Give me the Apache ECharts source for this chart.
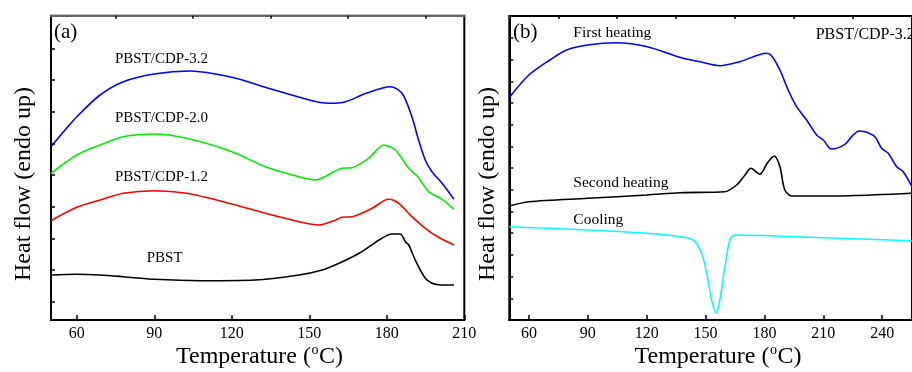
<!DOCTYPE html>
<html>
<head>
<meta charset="utf-8">
<script src="https://cdn.jsdelivr.net/npm/echarts@6/dist/echarts.min.js"></script>
<style>
  html, body { margin: 0; padding: 0; background: #fff; }
  #chart { width: 912px; height: 372px; }
</style>
</head>
<body>
<div id="chart"></div>
<script>
// x ticks (temperature, °C)
const tempTicksA = [60, 90, 120, 150, 180, 210];
const tempTicksB = [60, 90, 120, 150, 180, 210, 240];
const minorTicksA = [75, 105, 135, 165, 195];
const minorTicksB = [75, 105, 135, 165, 195, 225];
// y ticks (heat flow, arbitrary units, no labels)
const heatTicksA = [18.3, 50, 81.7, 113.3, 145, 176.7, 208.3, 240, 271.7];
const heatTicksB = [21.7, 43.4, 65.1, 86.8, 108.5, 130.2, 151.9, 173.6, 195.3, 217, 238.7, 260.4, 282.1];

// (a) heating curves: [temperature, heat flow]
const pbst = [[50, 45], [60, 45.7], [69, 45], [78, 43.3], [90, 40.7], [108, 39.3], [129, 40], [146, 45],
  [155, 50], [161.5, 56.7], [169.3, 66.7], [178.1, 81.7], [181.9, 86], [185.2, 86], [187.2, 78.3],
  [188.5, 75], [191, 60], [194.9, 41.7], [197.5, 36.7], [200, 35.3], [206, 35]];
const cdp12 = [[50, 99.3], [60, 112.7], [69, 120], [78, 126.7], [90, 129.3], [102.5, 126.7], [120, 116],
  [133, 106.7], [146, 98.3], [153.6, 95], [159.5, 99.3], [162.6, 102.7], [166.5, 103.3], [174.3, 111.7],
  [180.7, 120.7], [184.6, 116.7], [189.7, 103.3], [194.9, 91.7], [200, 82.7], [206, 75]];
const cdp20 = [[50, 146.7], [60, 165], [69, 175], [78, 183.3], [90, 186], [102.5, 181.7], [120, 168.3],
  [133, 153.3], [146, 143.3], [152.3, 140], [156, 143.3], [162.6, 151.7], [166.5, 152.3], [173, 161.7],
  [178.8, 175], [183.3, 170], [188.5, 151.7], [192, 143.3], [196.2, 128.3], [201.4, 120.7], [206, 110.7]];
const cdp32 = [[50, 173.3], [56, 191.7], [60, 203.3], [69, 225], [78, 238.3], [90, 246], [104, 249],
  [120, 242.7], [133, 232.7], [150, 220], [157.5, 216.7], [164, 218.3], [172, 226.7], [181.4, 233.3],
  [185.9, 226.7], [189.7, 203.3], [192.3, 180], [194.9, 160], [197.5, 148.3], [201.4, 136.7], [206, 120.7]];

// (b) PBST/CDP-3.2 runs
const firstHeating = [[50.3, 223.3], [60, 245], [70.7, 260], [79.2, 270], [90, 275], [104.7, 277.3],
  [120.3, 273.3], [138.6, 261.7], [147.1, 258.3], [157.3, 254.3], [167.5, 258.3], [181.1, 266.7],
  [183.7, 264], [187.9, 250], [192.1, 230], [196.4, 213.3], [201.5, 200], [206.6, 185], [210, 180],
  [214.2, 171], [221, 175.7], [225.2, 185], [228.3, 189], [231.2, 188.3], [236.3, 183.3], [239.7, 171.7],
  [243.1, 166.7], [247.4, 153.3], [250.7, 148.3], [255.2, 133.3]];
const secondHeating = [[50, 114], [60, 118.3], [90, 121.7], [120, 125], [137, 127.3], [159.9, 128.3],
  [165.8, 135], [170.1, 145], [173.1, 151.7], [177.7, 145.7], [181.4, 156.7], [185, 164], [187.9, 153.3],
  [190.4, 130], [193.9, 124], [198, 124], [223.7, 124.3], [255, 126.7]];
const cooling = [[50, 93.3], [90, 90], [120, 86.7], [137, 83.3], [143.7, 80], [148, 66.7], [150.6, 46.7],
  [153.1, 20], [155.3, 7.3], [157.3, 20], [159.9, 53.3], [162.4, 80], [165, 85], [203.2, 82.7], [255, 79.3]];

const FONT = "'Liberation Serif', 'DejaVu Serif', serif";

function tempAxis(grid, max, ticks) {
  return {
    type: 'value', gridIndex: grid, min: 50, max: max,
    axisLine: { lineStyle: { color: '#000', width: 2 } },
    axisTick: { inside: true, length: 5, customValues: ticks, lineStyle: { color: '#000', width: 1.5 } },
    axisLabel: { customValues: ticks, color: '#000', fontFamily: FONT, fontSize: 16, margin: 6 },
    splitLine: { show: false },
  };
}

function minorAxis(grid, max, ticks) {
  return {
    type: 'value', gridIndex: grid, min: 50, max: max,
    axisLine: { show: false },
    axisTick: { inside: true, length: 3, customValues: ticks, lineStyle: { color: '#000', width: 1.5 } },
    axisLabel: { show: false },
    splitLine: { show: false },
  };
}

function heatAxis(grid, max, ticks) {
  return {
    type: 'value', gridIndex: grid, min: 0, max: max,
    axisLine: { show: true, lineStyle: { color: '#000', width: 2 } },
    axisTick: { show: true, inside: true, length: 4, customValues: ticks, lineStyle: { color: '#000', width: 1.5 } },
    axisLabel: { show: false },
    splitLine: { show: false },
  };
}

function curve(name, data, color, xi) {
  return {
    name, type: 'line', data, xAxisIndex: xi, yAxisIndex: xi,
    showSymbol: false, smooth: 0.3,
    lineStyle: { color, width: 1.6 }, itemStyle: { color },
  };
}

function label(text, x, y, size, align) {
  return {
    type: 'text', x, y,
    style: { text, fill: '#000', font: `${size}px ${FONT}`, textAlign: align || 'left', textVerticalAlign: 'middle' },
  };
}

// "Temperature (oC)" with a raised small o, laid out from measured widths
const ctx = document.createElement('canvas').getContext('2d');
function textWidth(text, size) {
  ctx.font = `${size}px ${FONT}`;
  return ctx.measureText(text).width;
}
function tempTitle(cx, cy) {
  const wa = textWidth('Temperature (', 24);
  const wo = textWidth('o', 14);
  const wc = textWidth('C)', 24);
  const x0 = cx - (wa + wo + wc) / 2;
  return [
    label('Temperature (', x0, cy, 24),
    label('o', x0 + wa + 0.5, cy - 7, 14),
    label('C)', x0 + wa + wo + 1, cy, 24),
  ];
}

const chart = echarts.init(document.getElementById('chart'));
chart.setOption({
  animation: false,
  backgroundColor: '#fff',
  grid: [
    { left: 51, top: 15.7, width: 413.3, height: 304.3, show: true, borderColor: '#000', borderWidth: 2 },
    { left: 509.3, top: 16, width: 402.7, height: 304, show: true, borderColor: '#000', borderWidth: 2 },
  ],
  xAxis: [
    tempAxis(0, 210, tempTicksA),
    tempAxis(1, 255.2, tempTicksB),
    minorAxis(0, 210, minorTicksA),
    minorAxis(1, 255.2, minorTicksB),
    {
      type: 'value', gridIndex: 0, min: 50, max: 210, position: 'top',
      axisLine: { lineStyle: { color: '#666', width: 2 } },
      axisTick: { show: false }, axisLabel: { show: false }, splitLine: { show: false },
    },
  ],
  yAxis: [
    heatAxis(0, 304.3, heatTicksA),
    heatAxis(1, 304, heatTicksB),
  ],
  series: [
    curve('PBST', pbst, '#000000', 0),
    curve('PBST/CDP-1.2', cdp12, '#ff0000', 0),
    curve('PBST/CDP-2.0', cdp20, '#00ee00', 0),
    curve('PBST/CDP-3.2', cdp32, '#0000ff', 0),
    curve('First heating', firstHeating, '#0000ff', 1),
    curve('Second heating', secondHeating, '#000000', 1),
    curve('Cooling', cooling, '#00ffff', 1),
  ],
  graphic: [
    label('(a)', 54, 32, 21),
    label('(b)', 513, 32.5, 21),
    label('PBST/CDP-3.2', 115, 59.3, 15),
    label('PBST/CDP-2.0', 115, 118.3, 15),
    label('PBST/CDP-1.2', 115, 176.7, 15),
    label('PBST', 146.7, 258.3, 15),
    label('First heating', 573.3, 32.7, 15.5),
    label('Second heating', 573.3, 183.3, 15.5),
    label('Cooling', 573.3, 220, 15.5),
    label('PBST/CDP-3.2', 815.7, 35, 16),
    ...tempTitle(259, 357),
    ...tempTitle(717.5, 357),
    {
      type: 'text', x: 24, y: 184, rotation: Math.PI / 2,
      style: { text: 'Heat flow (endo up)', fill: '#000', font: `24px ${FONT}`, textAlign: 'center', textVerticalAlign: 'middle' },
    },
    {
      type: 'text', x: 488, y: 184, rotation: Math.PI / 2,
      style: { text: 'Heat flow (endo up)', fill: '#000', font: `24px ${FONT}`, textAlign: 'center', textVerticalAlign: 'middle' },
    },
  ],
});
</script>
</body>
</html>
